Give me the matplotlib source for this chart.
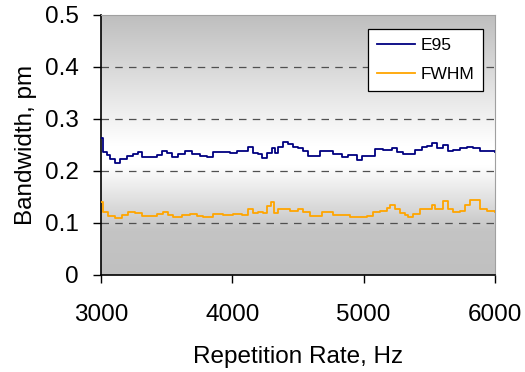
import matplotlib.pyplot as plt
import numpy as np
from matplotlib.colors import LinearSegmentedColormap

plt.rcParams["font.family"] = ["Liberation Sans", "DejaVu Sans"]

# repetition rate, Hz and bandwidth, pm
e95_hz = [3000, 3018, 3043, 3069, 3107, 3145, 3195, 3246, 3284, 3310, 3373, 3424,
          3462, 3500, 3538, 3589, 3640, 3690, 3754, 3805, 3855, 3906, 3982, 4033,
          4084, 4122, 4160, 4198, 4223, 4261, 4299, 4325, 4350, 4388, 4426, 4464,
          4503, 4541, 4579, 4629, 4668, 4718, 4769, 4832, 4883, 4947, 4985, 5036,
          5086, 5150, 5213, 5251, 5302, 5353, 5391, 5442, 5480, 5518, 5556, 5607,
          5645, 5683, 5734, 5784, 5835, 5886, 5937, 6000]
e95 = [0.263, 0.236, 0.231, 0.223, 0.215, 0.223, 0.229, 0.233, 0.236, 0.227, 0.227, 0.231,
       0.238, 0.235, 0.227, 0.233, 0.238, 0.233, 0.229, 0.227, 0.236, 0.236, 0.235, 0.238,
       0.238, 0.247, 0.235, 0.233, 0.225, 0.235, 0.244, 0.235, 0.247, 0.255, 0.252, 0.247,
       0.244, 0.238, 0.229, 0.229, 0.238, 0.238, 0.233, 0.227, 0.231, 0.222, 0.228, 0.229,
       0.242, 0.241, 0.244, 0.236, 0.233, 0.233, 0.240, 0.247, 0.248, 0.253, 0.244, 0.250,
       0.238, 0.241, 0.244, 0.247, 0.244, 0.238, 0.238, 0.236]

fwhm_hz = [3000, 3018, 3056, 3107, 3157, 3208, 3259, 3310, 3373, 3424, 3475, 3513,
           3551, 3614, 3678, 3728, 3779, 3855, 3931, 4008, 4071, 4122, 4160, 4198,
           4236, 4261, 4292, 4317, 4350, 4388, 4439, 4503, 4541, 4592, 4643, 4680,
           4731, 4769, 4832, 4896, 4959, 5023, 5074, 5124, 5175, 5201, 5239, 5277,
           5315, 5340, 5378, 5429, 5480, 5518, 5543, 5581, 5607, 5645, 5683, 5734,
           5772, 5810, 5848, 5886, 5937, 6000]
fwhm = [0.140, 0.122, 0.114, 0.110, 0.116, 0.121, 0.119, 0.113, 0.114, 0.117, 0.122, 0.116,
        0.111, 0.116, 0.117, 0.114, 0.111, 0.117, 0.116, 0.117, 0.116, 0.126, 0.119, 0.122,
        0.119, 0.132, 0.140, 0.119, 0.126, 0.127, 0.124, 0.126, 0.121, 0.113, 0.114, 0.121,
        0.121, 0.116, 0.116, 0.111, 0.111, 0.114, 0.122, 0.123, 0.129, 0.135, 0.126, 0.119,
        0.116, 0.111, 0.118, 0.126, 0.127, 0.135, 0.126, 0.126, 0.142, 0.127, 0.122, 0.124,
        0.135, 0.145, 0.145, 0.126, 0.124, 0.122]

fig = plt.figure(figsize=(5.25, 3.72), dpi=100)
ax = fig.add_axes([0.1924, 0.2608, 0.7505, 0.6989])

# grey-white-grey background like the Excel fill
grad = LinearSegmentedColormap.from_list(
    "bg", [(0.0, "#c0c0c0"), (0.17, "#c4c4c4"), (0.42, "#ffffff"),
           (0.5, "#ffffff"), (1.0, "#bebebe")])
ax.imshow(np.linspace(0, 1, 256).reshape(-1, 1), cmap=grad, aspect="auto",
          extent=[3000, 6000, 0, 0.5], origin="lower", zorder=0)

for y in [0.1, 0.2, 0.3, 0.4]:
    ax.axhline(y, color="#505050", lw=0.9, dashes=(6, 5), zorder=1)

ax.plot(e95_hz, e95, color="#000080", lw=1.3, drawstyle="steps-post", label="E95", zorder=3)
ax.plot(fwhm_hz, fwhm, color="#FFA500", lw=1.3, drawstyle="steps-post", label="FWHM", zorder=3)

ax.set_xlim(3000, 6000)
ax.set_ylim(0, 0.5)
ax.set_xticks([3000, 4000, 5000, 6000])
ax.set_yticks([0, 0.1, 0.2, 0.3, 0.4, 0.5])
ax.set_yticklabels(["0", "0.1", "0.2", "0.3", "0.4", "0.5"])
ax.tick_params(axis="both", labelsize=17.5, length=6, width=1, color="black")
ax.tick_params(axis="x", direction="out", pad=15)
ax.tick_params(axis="y", direction="out", pad=10)

ax.spines["top"].set_color("#a0a0a0")
ax.spines["right"].set_color("#a0a0a0")
ax.spines["left"].set_linewidth(1.2)
ax.spines["bottom"].set_linewidth(1.2)

ax.set_xlabel("Repetition Rate, Hz", fontsize=17.5, labelpad=14)
ax.set_ylabel("Bandwidth, pm", fontsize=17.5, labelpad=6)

leg = ax.legend(loc="upper left", bbox_to_anchor=(0.678, 0.946), fontsize=12.5,
                fancybox=False, framealpha=1, edgecolor="black", handlelength=2.2,
                handletextpad=0.3, borderpad=0.5, borderaxespad=0, labelspacing=0.8)
leg.get_frame().set_linewidth(0.9)

fig.savefig("out.png", dpi=100)
plt.close(fig)
